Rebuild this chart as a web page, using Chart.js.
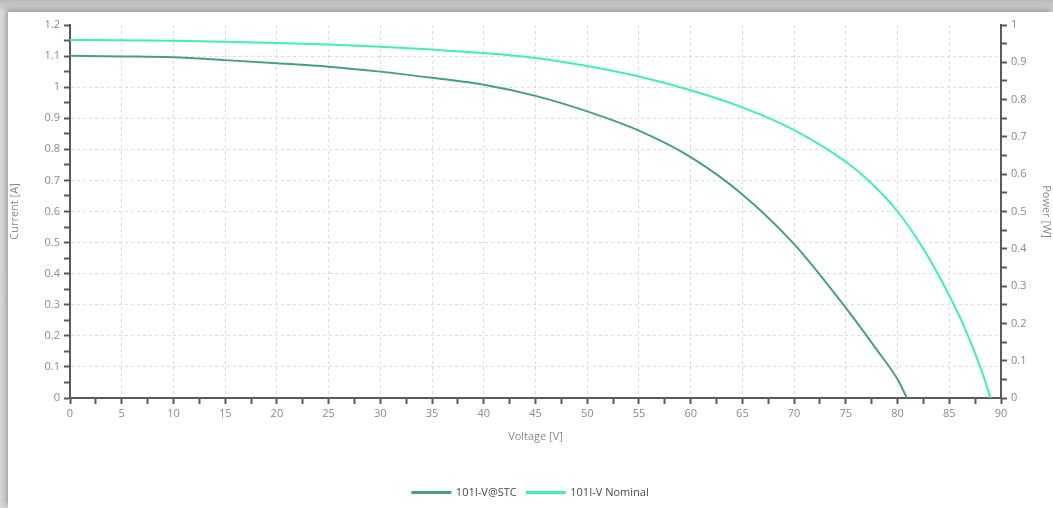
<!DOCTYPE html>
<html>
<head>
	<title>I-V curve</title>
	<meta charset="utf-8">
	<style>
		html, body {
			margin: 0;
			padding: 0;
			width: 1053px;
			height: 508px;
			overflow: hidden;
			background: linear-gradient(#b9b9b9, #d9d9d9 12px, #d4d4d4);
		}
		.panel {
			position: absolute;
			left: 8px;
			top: 12px;
			width: 1045px;
			height: 496px;
			background: #fff;
			box-shadow: -2px -3px 5px rgba(0,0,0,0.25);
		}
		canvas {
			width: 1045px;
			height: 496px;
		}
	</style>
</head>
<body>
	<div class="panel">
		<canvas id="chart" width="1045" height="496"></canvas>
	</div>
	<script src="https://cdn.jsdelivr.net/npm/chart.js@4"></script>
	<script>
		// voltage [V] and current [A]
		const stcVoltage = [0, 5, 10, 15, 20, 25, 30, 35, 40, 45, 50, 55, 60, 65, 70, 75, 78, 80, 80.9];
		const stcCurrent = [1.101, 1.099, 1.096, 1.087, 1.077, 1.066, 1.05, 1.03, 1.008, 0.972, 0.922, 0.86, 0.775, 0.655, 0.495, 0.29, 0.155, 0.06, 0];

		const nomVoltage = [0, 5, 10, 15, 20, 25, 30, 35, 40, 45, 50, 55, 60, 65, 70, 75, 77.5, 80, 82.5, 85, 86.5, 88, 89];
		const nomCurrent = [1.152, 1.151, 1.149, 1.146, 1.142, 1.137, 1.13, 1.121, 1.11, 1.094, 1.068, 1.034, 0.99, 0.935, 0.862, 0.76, 0.69, 0.6, 0.48, 0.33, 0.225, 0.1, 0];

		const seriesNames = ["101I-V@STC", "101I-V Nominal"];
		const seriesColors = ["#45a373", "#3ff0b4"];

		const toPoints = (xs, ys) => xs.map((x, i) => ({ x: x, y: ys[i] }));

		const isMajor = (v, step) => Math.abs(v / step - Math.round(v / step)) < 1e-6;
		const fmt = v => String(Math.round(v * 10) / 10);

		const tickFont = { family: "'Open Sans', sans-serif", size: 11 };
		const tickColor = "#8a8a8a";
		const axisColor = "#5a5a5a";
		const gridColor = "#dcdcdc";

		const gridFor = (step, max) => ({
			color: ctx => (ctx.tick && isMajor(ctx.tick.value, step) && ctx.tick.value < max) ? gridColor : "transparent",
			tickColor: axisColor,
			tickLength: 6,
			tickWidth: 2,
			lineWidth: 1
		});

		new Chart(document.getElementById("chart"), {
			type: "line",
			data: {
				datasets: [
					{
						label: seriesNames[0],
						data: toPoints(stcVoltage, stcCurrent),
						borderColor: seriesColors[0],
						backgroundColor: seriesColors[0],
						borderWidth: 2,
						pointRadius: 0,
						cubicInterpolationMode: "monotone",
						yAxisID: "y"
					},
					{
						label: seriesNames[1],
						data: toPoints(nomVoltage, nomCurrent),
						borderColor: seriesColors[1],
						backgroundColor: seriesColors[1],
						borderWidth: 2,
						pointRadius: 0,
						cubicInterpolationMode: "monotone",
						yAxisID: "y"
					}
				]
			},
			options: {
				responsive: false,
				animation: false,
				layout: { padding: { top: 13, left: 0, right: 0, bottom: 0 } },
				plugins: {
					tooltip: { enabled: false },
					legend: {
						position: "bottom",
						labels: {
							boxWidth: 38,
							boxHeight: 1,
							padding: 10,
							color: "#4a4a4a",
							font: { family: "'Open Sans', sans-serif", size: 11 }
						}
					}
				},
				scales: {
					x: {
						type: "linear",
						min: 0,
						max: 90,
						afterFit: s => { s.height = 79; },
						ticks: {
							stepSize: 2.5,
							autoSkip: false,
							maxRotation: 0,
							color: tickColor,
							font: tickFont,
							padding: 3,
							callback: v => isMajor(v, 5) ? String(v) : ""
						},
						grid: gridFor(5, 90),
						border: { color: axisColor, width: 2, dash: [3, 3] },
						title: {
							display: true,
							text: "Voltage [V]",
							color: tickColor,
							font: tickFont,
							padding: { top: 0, bottom: 34 }
						}
					},
					y: {
						type: "linear",
						position: "left",
						min: 0,
						max: 1.2,
						afterFit: s => { s.width = 62; },
						ticks: {
							stepSize: 0.05,
							autoSkip: false,
							color: tickColor,
							font: tickFont,
							padding: 4,
							callback: v => isMajor(v, 0.1) ? fmt(v) : ""
						},
						grid: gridFor(0.1, 1.2),
						border: { color: axisColor, width: 2, dash: [3, 3] },
						title: {
							display: true,
							text: "Current [A]",
							color: tickColor,
							font: tickFont,
							padding: { top: 0, bottom: 0 }
						}
					},
					y1: {
						type: "linear",
						position: "right",
						display: true,
						min: 0,
						max: 1,
						afterFit: s => { s.width = 52; },
						ticks: {
							stepSize: 0.05,
							autoSkip: false,
							color: tickColor,
							font: tickFont,
							padding: 4,
							callback: v => isMajor(v, 0.1) ? fmt(v) : ""
						},
						grid: {
							drawOnChartArea: false,
							tickColor: axisColor,
							tickLength: 6,
							tickWidth: 2
						},
						border: { color: axisColor, width: 2 },
						title: {
							display: true,
							text: "Power [W]",
							color: tickColor,
							font: tickFont,
							padding: 0
						}
					}
				}
			}
		});
	</script>
</body>
</html>
